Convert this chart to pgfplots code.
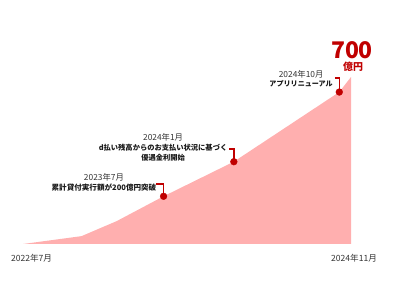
\documentclass[border=0pt]{standalone}
\usepackage{pgfplots}
\pgfplotsset{compat=1.18}
\usepackage{fontspec}
\setmainfont{Noto Sans CJK JP}
\definecolor{pinkfill}{HTML}{FFAFAF}
\definecolor{darkred}{HTML}{C00000}
\definecolor{datecol}{HTML}{333333}
\definecolor{boldcol}{HTML}{1A1A1A}
\begin{document}
\begin{tikzpicture}[x=1bp,y=1bp]
\path[use as bounding box] (0,0) rectangle (400,300);
\begin{axis}[
  at={(23bp,56bp)}, anchor=south west,
  width=328bp, height=167bp, scale only axis,
  xmin=0, xmax=28, ymin=0, ymax=700,
  axis lines=none, clip=false, enlargelimits=false,
]
\addplot[fill=pinkfill, draw=none] coordinates {
  (0,0) (5,33) (8,96) (12,200) (18,345) (27,637) (28,700)
} \closedcycle;
% brackets
\addplot[darkred, line width=1.3bp] coordinates {(11.35,251.5) (12,251.5) (12,200)};
\addplot[darkred, line width=1.3bp] coordinates {(17.59,398) (18,398) (18,345)};
\addplot[darkred, line width=1.3bp] coordinates {(26.63,696) (27,696) (27,637)};
% milestone dots
\addplot[only marks, mark=*, mark size=3.4bp, darkred, mark options={draw=darkred, fill=darkred}] coordinates {
  (12,200) (18,345) (27,637)
};
\end{axis}
% axis end labels
\node[datecol, font=\fontsize{8.6}{9}\selectfont, inner sep=0] at (31.5,41.5) {2022年7月};
\node[datecol, font=\fontsize{8.6}{9}\selectfont, inner sep=0] at (354,41.5) {2024年11月};
% 700 億円
\node[darkred, font=\fontsize{23}{25}\bfseries, inner sep=0] at (352,249.5) {700};
\node[darkred, font=\fontsize{10}{11}\bfseries, inner sep=0] at (353,233) {億円};
% annotation 3
\node[boldcol, font=\fontsize{7.1}{8}\bfseries, inner sep=0, anchor=east] (b3) at (333,216) {アプリリニューアル};
\node[datecol, font=\fontsize{8.4}{9}\selectfont, inner sep=0] at ([yshift=10bp]b3.center) {2024年10月};
% annotation 2
\node[boldcol, font=\fontsize{7.3}{8}\bfseries, inner sep=0, anchor=east] (b2) at (227.5,152) {d払い残高からのお支払い状況に基づく};
\node[datecol, font=\fontsize{8.4}{9}\selectfont, inner sep=0] at ([yshift=11bp]b2.center) {2024年1月};
\node[boldcol, font=\fontsize{7.3}{8}\bfseries, inner sep=0] at ([yshift=-9.5bp]b2.center) {優遇金利開始};
% annotation 1
\node[boldcol, font=\fontsize{7.6}{8}\bfseries, inner sep=0, anchor=east] (b1) at (156.5,112.5) {累計貸付実行額が200億円突破};
\node[datecol, font=\fontsize{8.4}{9}\selectfont, inner sep=0] at ([yshift=10bp]b1.center) {2023年7月};
\end{tikzpicture}
\end{document}
